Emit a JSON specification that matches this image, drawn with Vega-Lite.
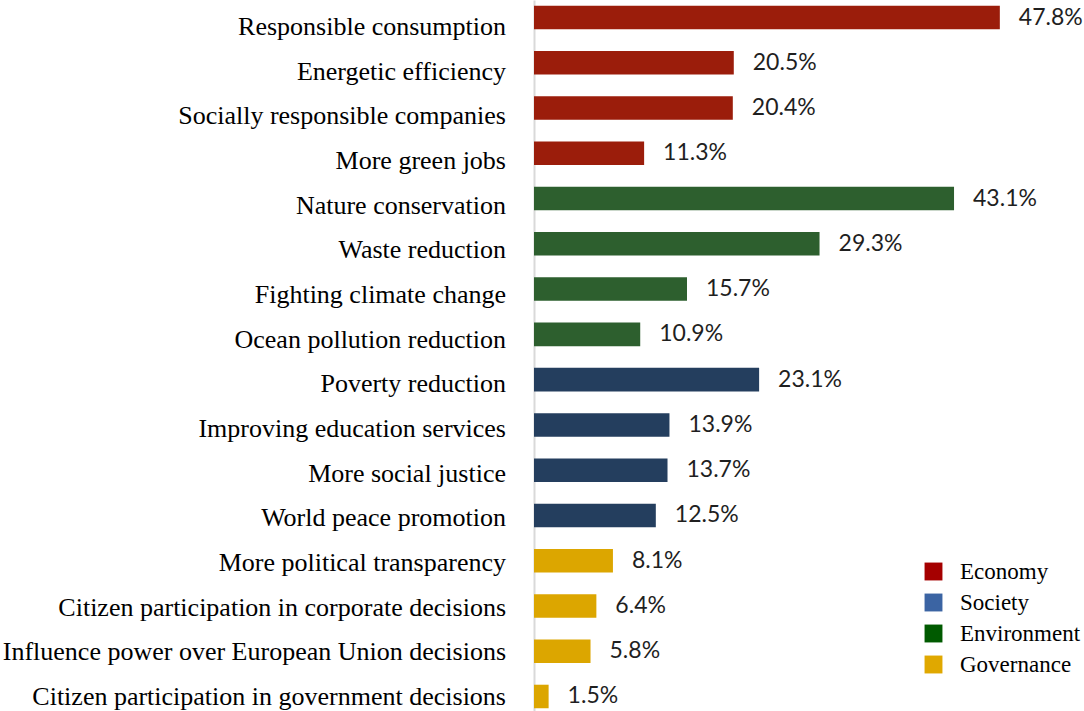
{
  "$schema": "https://vega.github.io/schema/vega-lite/v6.json",
  "width": 536,
  "height": 714,
  "autosize": {"type": "none"},
  "padding": {"left": 534, "top": 0, "right": 14, "bottom": 0},
  "background": "white",
  "config": {"view": {"stroke": null}},
  "datasets": {
    "bars": [
      {"item": "Responsible consumption", "group": "Economy", "pct": 0.478},
      {"item": "Energetic efficiency", "group": "Economy", "pct": 0.205},
      {"item": "Socially responsible companies", "group": "Economy", "pct": 0.204},
      {"item": "More green jobs", "group": "Economy", "pct": 0.113},
      {"item": "Nature conservation", "group": "Environment", "pct": 0.431},
      {"item": "Waste reduction", "group": "Environment", "pct": 0.293},
      {"item": "Fighting climate change", "group": "Environment", "pct": 0.157},
      {"item": "Ocean pollution reduction", "group": "Environment", "pct": 0.109},
      {"item": "Poverty reduction", "group": "Society", "pct": 0.231},
      {"item": "Improving education services", "group": "Society", "pct": 0.139},
      {"item": "More social justice", "group": "Society", "pct": 0.137},
      {"item": "World peace promotion", "group": "Society", "pct": 0.125},
      {"item": "More political transparency", "group": "Governance", "pct": 0.081},
      {"item": "Citizen participation in corporate decisions", "group": "Governance", "pct": 0.064},
      {"item": "Influence power over European Union decisions", "group": "Governance", "pct": 0.058},
      {"item": "Citizen participation in government decisions", "group": "Governance", "pct": 0.015}
    ],
    "legendItems": [
      {"cat": "Economy"},
      {"cat": "Society"},
      {"cat": "Environment"},
      {"cat": "Governance"}
    ]
  },
  "layer": [
    {
      "data": {"name": "bars"},
      "encoding": {
        "y": {
          "field": "item",
          "type": "nominal",
          "sort": null,
          "scale": {"paddingInner": 0.48, "paddingOuter": 0.127},
          "axis": {
            "title": null,
            "ticks": false,
            "labels": false,
            "domain": true,
            "domainColor": "#D9D9D9",
            "domainWidth": 2
          }
        },
        "x": {
          "field": "pct",
          "type": "quantitative",
          "scale": {"domain": [0, 0.55]},
          "axis": null
        }
      },
      "layer": [
        {
          "mark": {"type": "bar"},
          "encoding": {
            "color": {
              "field": "group",
              "type": "nominal",
              "scale": {
                "domain": ["Economy", "Society", "Environment", "Governance"],
                "range": ["#9B1D0B", "#243E5E", "#2D5F2E", "#DCA600"]
              },
              "legend": null
            }
          }
        },
        {
          "mark": {"type": "text", "align": "left", "baseline": "middle", "dx": 19, "font": "Lato", "fontSize": 23, "color": "#1F1F1F"},
          "encoding": {
            "text": {"field": "pct", "type": "quantitative", "format": ".1%"}
          }
        }
      ]
    },
    {
      "data": {"name": "bars"},
      "mark": {"type": "text", "align": "right", "baseline": "alphabetic", "dx": -28, "dy": 13, "font": "Liberation Serif", "fontSize": 26, "color": "#000000"},
      "encoding": {
        "y": {
          "field": "item",
          "type": "nominal",
          "sort": null,
          "scale": {"type": "point", "padding": 0.492},
          "axis": null
        },
        "x": {"datum": 0, "type": "quantitative", "scale": {"domain": [0, 0.55]}},
        "text": {"field": "item"}
      }
    },
    {
      "data": {"name": "legendItems"},
      "mark": {"type": "point", "opacity": 0, "filled": true},
      "encoding": {
        "color": {
          "field": "cat",
          "type": "nominal",
          "sort": null,
          "scale": {
            "domain": ["Economy", "Society", "Environment", "Governance"],
            "range": ["#A50000", "#3B64A3", "#005A00", "#E0A800"]
          },
          "legend": {
            "orient": "none",
            "legendX": 388,
            "legendY": 560,
            "title": null,
            "padding": 0,
            "symbolType": "square",
            "symbolSize": 320,
            "symbolOpacity": 1,
            "symbolStrokeWidth": 0,
            "labelFont": "Liberation Serif",
            "labelFontSize": 23,
            "labelColor": "#000000",
            "labelOffset": 15,
            "rowPadding": 7
          }
        }
      }
    }
  ],
  "resolve": {
    "scale": {"color": "independent", "y": "independent"},
    "legend": {"color": "independent"}
  }
}
